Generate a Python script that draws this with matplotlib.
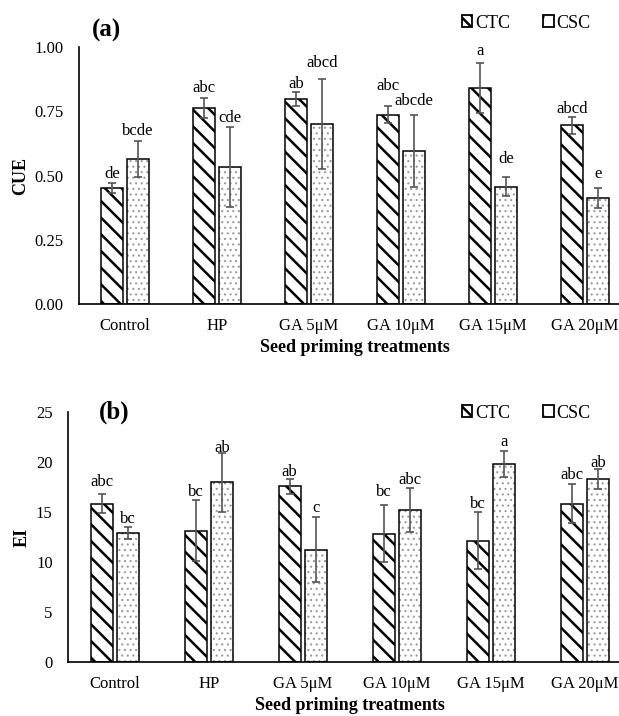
import matplotlib
matplotlib.use("Agg")
import matplotlib.pyplot as plt
from matplotlib.patches import Patch
import numpy as np

plt.rcParams['font.family'] = ['Liberation Serif', 'DejaVu Serif']
plt.rcParams['hatch.linewidth'] = 1.8

# Data
treatments = ['Control', 'HP', 'GA 5μM', 'GA 10μM', 'GA 15μM', 'GA 20μM']
series = ['CTC', 'CSC']

cue_ctc = [0.450, 0.762, 0.798, 0.737, 0.839, 0.695]
cue_ctc_err = [0.020, 0.040, 0.026, 0.034, 0.097, 0.033]
cue_csc = [0.565, 0.532, 0.699, 0.597, 0.457, 0.413]
cue_csc_err = [0.070, 0.155, 0.175, 0.140, 0.038, 0.039]
cue_ctc_letters = ['de', 'abc', 'ab', 'abc', 'a', 'abcd']
cue_csc_letters = ['bcde', 'cde', 'abcd', 'abcde', 'de', 'e']

ei_ctc = [15.83, 13.13, 17.57, 12.83, 12.13, 15.83]
ei_ctc_err = [0.97, 3.03, 0.77, 2.83, 2.83, 1.97]
ei_csc = [12.90, 17.97, 11.23, 15.20, 19.80, 18.33]
ei_csc_err = [0.63, 2.93, 3.27, 2.17, 1.27, 1.00]
ei_ctc_letters = ['abc', 'bc', 'ab', 'bc', 'bc', 'abc']
ei_csc_letters = ['bc', 'ab', 'c', 'abc', 'a', 'ab']

# extra lift (points) of each letter above its error bar, as placed in the original
cue_ctc_lift = [1, 1, 0, 8.5, 3.5, 0]
cue_csc_lift = [1, 1, 6, 4, 7, 4]
ei_ctc_lift = [3, 0, -1, 4, 0, 1]
ei_csc_lift = [0, -2, 1, 0, 1, -2]

BAR_W = 0.23
OFFSET = 0.141
ERR_COLOR = '#555555'
DOT_COLOR = '#9c9c9c'


def draw_panel(ax, ctc, ctc_err, csc, csc_err, ctc_lab, csc_lab, ctc_lift, csc_lift,
               ylim, yticks, yfmt, ylabel, tag, legend_y):
    x = np.arange(len(treatments))
    xa = x - OFFSET
    xb = x + OFFSET

    # CTC: bold diagonal stripes
    ax.bar(xa, ctc, BAR_W, color='white', edgecolor='black',
           hatch='\\\\', linewidth=1.1, zorder=2)
    # CSC: light grey dotted fill, then a black outline on top
    with plt.rc_context({'hatch.linewidth': 0.8}):
        ax.bar(xb, csc, BAR_W, color='white', edgecolor=DOT_COLOR,
               hatch='...', linewidth=0, zorder=2)
        csc_handle = Patch(facecolor='white', edgecolor='black', hatch='.',
                           linewidth=1.3)
    ax.bar(xb, csc, BAR_W, color='none', edgecolor='black',
           linewidth=1.1, zorder=3)

    ax.errorbar(xa, ctc, yerr=ctc_err, fmt='none', ecolor=ERR_COLOR,
                elinewidth=1.2, capsize=3, capthick=1.2, zorder=4)
    ax.errorbar(xb, csc, yerr=csc_err, fmt='none', ecolor=ERR_COLOR,
                elinewidth=1.2, capsize=3, capthick=1.2, zorder=4)

    for xi, v, e, lab, lift in zip(xa, ctc, ctc_err, ctc_lab, ctc_lift):
        ax.annotate(lab, (xi, v + e), xytext=(0, lift), textcoords='offset points',
                    ha='center', va='bottom', fontsize=12)
    for xi, v, e, lab, lift in zip(xb, csc, csc_err, csc_lab, csc_lift):
        ax.annotate(lab, (xi, v + e), xytext=(0, lift), textcoords='offset points',
                    ha='center', va='bottom', fontsize=12)

    ax.set_xlim(-0.5, 5.5)
    ax.set_ylim(*ylim)
    ax.set_yticks(yticks)
    ax.set_yticklabels([yfmt.format(t) for t in yticks])
    ax.set_xticks(x)
    ax.set_xticklabels(treatments)
    ax.tick_params(axis='both', length=0, labelsize=12)
    ax.tick_params(axis='x', pad=10)
    ax.tick_params(axis='y', pad=11)
    for side in ['top', 'right']:
        ax.spines[side].set_visible(False)
    for side in ['left', 'bottom']:
        ax.spines[side].set_linewidth(1.2)

    ax.set_xlabel('Seed priming treatments', fontsize=13, fontweight='bold',
                  labelpad=4)
    ax.set_ylabel(ylabel, fontsize=13, fontweight='bold', va='center')
    ax.text(tag[1], tag[2], tag[0], transform=ax.transAxes, fontsize=18,
            fontweight='bold', ha='center', va='center')

    ctc_handle = Patch(facecolor='white', edgecolor='black', hatch='\\\\\\', linewidth=1.3)
    ax.figure.legend([ctc_handle, csc_handle], series, loc='center',
                     bbox_to_anchor=(526 / 619, legend_y),
                     ncol=2, frameon=False, fontsize=13, handlelength=0.6,
                     handleheight=0.6, handletextpad=0.15, columnspacing=1.8)


fig = plt.figure(figsize=(6.19, 7.16), dpi=100)
ax1 = fig.add_axes([79 / 619, (716 - 304) / 716, 552 / 619, 257 / 716])
ax2 = fig.add_axes([68 / 619, (716 - 662) / 716, 564 / 619, 250 / 716])

draw_panel(ax1, cue_ctc, cue_ctc_err, cue_csc, cue_csc_err,
           cue_ctc_letters, cue_csc_letters, cue_ctc_lift, cue_csc_lift,
           (0, 1.0), [0, 0.25, 0.5, 0.75, 1.0], '{:.2f}', 'CUE',
           ('(a)', 0.0507, 1.066), 1 - 23 / 716)
ax1.yaxis.set_label_coords((21 - 79) / 552, 0.5)

draw_panel(ax2, ei_ctc, ei_ctc_err, ei_csc, ei_csc_err,
           ei_ctc_letters, ei_csc_letters, ei_ctc_lift, ei_csc_lift,
           (0, 25), [0, 5, 10, 15, 20, 25], '{:g}', 'EI',
           ('(b)', 0.0816, 1.0), 1 - 413 / 716)
ax2.yaxis.set_label_coords((22 - 68) / 564, 0.5)

fig.savefig('out.png', dpi=100)
